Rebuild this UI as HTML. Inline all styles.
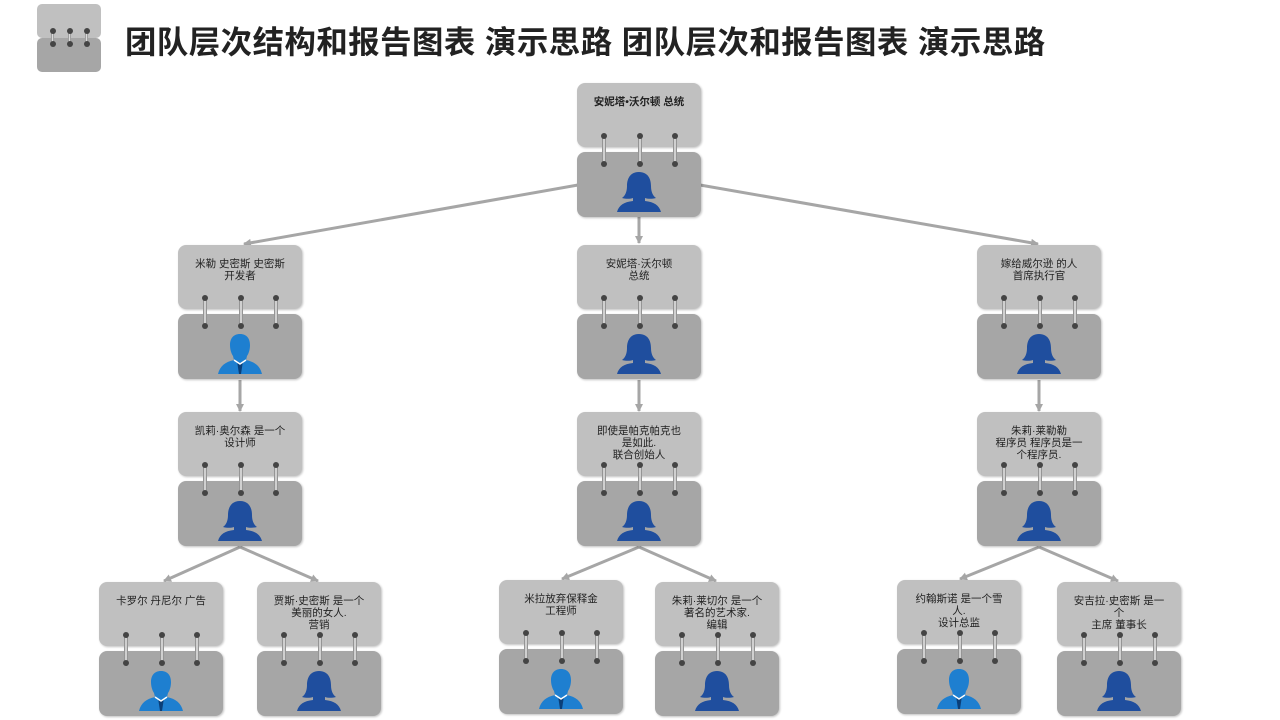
<!DOCTYPE html>
<html><head><meta charset="utf-8">
<style>
body{margin:0;width:1280px;height:720px;background:#fff;position:relative;overflow:hidden;font-family:"Liberation Sans","Noto Sans CJK SC",sans-serif}
.top{position:absolute;width:124px;height:64px;background:#c0c0c0;border-radius:8px;box-shadow:1px 1px 2px rgba(0,0,0,.25)}
.bot{position:absolute;width:124px;height:65px;background:#a6a6a6;border-radius:8px;box-shadow:1px 1px 2px rgba(0,0,0,.25)}
.txt{position:absolute;width:124px;text-align:center;font-size:10.5px;line-height:12px;color:#222}
.ring{position:absolute;width:4px;height:30px;background:linear-gradient(90deg,#777,#eee,#777);border-radius:2px}
.ring:before,.ring:after{content:"";position:absolute;left:-1px;width:6px;height:6px;border-radius:3px;background:#444}
.ring:before{top:-2px}.ring:after{bottom:-2px}
h1{position:absolute;left:125px;top:18px;margin:0;font-size:31.4px;font-weight:bold;color:#222;letter-spacing:0.5px;white-space:nowrap}
</style></head><body>
<div style="position:absolute;left:37px;top:4px;width:64px;height:34px;background:#c0c0c0;border-radius:5px"></div>
<div style="position:absolute;left:37px;top:38px;width:64px;height:34px;background:#a6a6a6;border-radius:5px"></div>
<div class="ring" style="left:51px;top:30px;height:15px;width:3px"></div>
<div class="ring" style="left:68px;top:30px;height:15px;width:3px"></div>
<div class="ring" style="left:85px;top:30px;height:15px;width:3px"></div>
<h1>团队层次结构和报告图表 演示思路 团队层次和报告图表 演示思路</h1>
<svg width="1280" height="720" style="position:absolute;left:0;top:0">
<defs><marker id="a" markerUnits="userSpaceOnUse" markerWidth="10" markerHeight="10" refX="7" refY="4" orient="auto"><path d="M0,0L8,4L0,8z" fill="#a6a6a6"/></marker></defs>
<g stroke="#a6a6a6" stroke-width="3" fill="none" marker-end="url(#a)">
<line x1="578" y1="185" x2="244" y2="244"/>
<line x1="700" y1="185" x2="1038" y2="244"/>
<line x1="639" y1="217" x2="639" y2="243"/>
<line x1="240" y1="380" x2="240" y2="411"/>
<line x1="639" y1="380" x2="639" y2="411"/>
<line x1="1039" y1="380" x2="1039" y2="411"/>
<line x1="240" y1="547" x2="164" y2="581"/>
<line x1="240" y1="547" x2="318" y2="581"/>
<line x1="639" y1="547" x2="562" y2="579"/>
<line x1="639" y1="547" x2="716" y2="581"/>
<line x1="1039" y1="547" x2="960" y2="579"/>
<line x1="1039" y1="547" x2="1118" y2="581"/>
</g></svg>
<div id="n"></div>
<script>
var F='<path d="M22 0C13 0 10 7 10 14c0 6-2 10-5 12 4 1 8 1 11 0v3C7 30 2 33 0 40h44c-2-7-7-10-16-11v-3c3 1 7 1 11 0-3-2-5-6-5-12C34 7 31 0 22 0z" fill="#1f4e9e"/>';
var M='<path d="M22 0c-7 0-10 5-10 11 0 4 1 8 3 11l1 4C7 28 2 32 0 40h44c-2-8-7-12-16-14l1-4c2-3 3-7 3-11 0-6-3-11-10-11z" fill="#1e7fd0"/><path d="M19 27l3 3 3-3-2 13h-2z" fill="#0b3f78"/><path d="M16 26l6 4 6-4" stroke="#fff" stroke-width="1.5" fill="none"/>';
var N=[[577,83,'<b>安妮塔•沃尔顿 总统</b>',F,0],
[178,245,'米勒 史密斯 史密斯<br>开发者',M],[577,245,'安妮塔·沃尔顿<br>总统',F],[977,245,'嫁给威尔逊 的人<br>首席执行官',F],
[178,412,'凯莉·奥尔森 是一个<br>设计师',F],[577,412,'即使是帕克帕克也<br>是如此.<br>联合创始人',F],[977,412,'朱莉·莱勒勒<br>程序员 程序员是一<br>个程序员.',F],
[99,582,'卡罗尔 丹尼尔 广告',M],[257,582,'贾斯·史密斯 是一个<br>美丽的女人.<br>营销',F],[499,580,'米拉放弃保释金<br>工程师',M],[655,582,'朱莉·莱切尔 是一个<br>著名的艺术家.<br>编辑',F],[897,580,'约翰斯诺 是一个雪<br>人.<br>设计总监',M],[1057,582,'安吉拉·史密斯 是一<br>个<br>主席 董事长',F]];
var h='';N.forEach(function(n){var x=n[0],y=n[1];
h+='<div class="top" style="left:'+x+'px;top:'+y+'px"></div><div class="bot" style="left:'+x+'px;top:'+(y+69)+'px"></div>';
h+='<div class="txt" style="left:'+x+'px;top:'+(y+13)+'px">'+n[2]+'</div>';
[25,61,96].forEach(function(o){h+='<div class="ring" style="left:'+(x+o)+'px;top:'+(y+52)+'px"></div>'});
h+='<svg width="44" height="40" viewBox="0 0 44 40" style="position:absolute;left:'+(x+40)+'px;top:'+(y+89)+'px">'+n[3]+'</svg>';});
document.getElementById('n').innerHTML=h;
</script>
</body></html>
